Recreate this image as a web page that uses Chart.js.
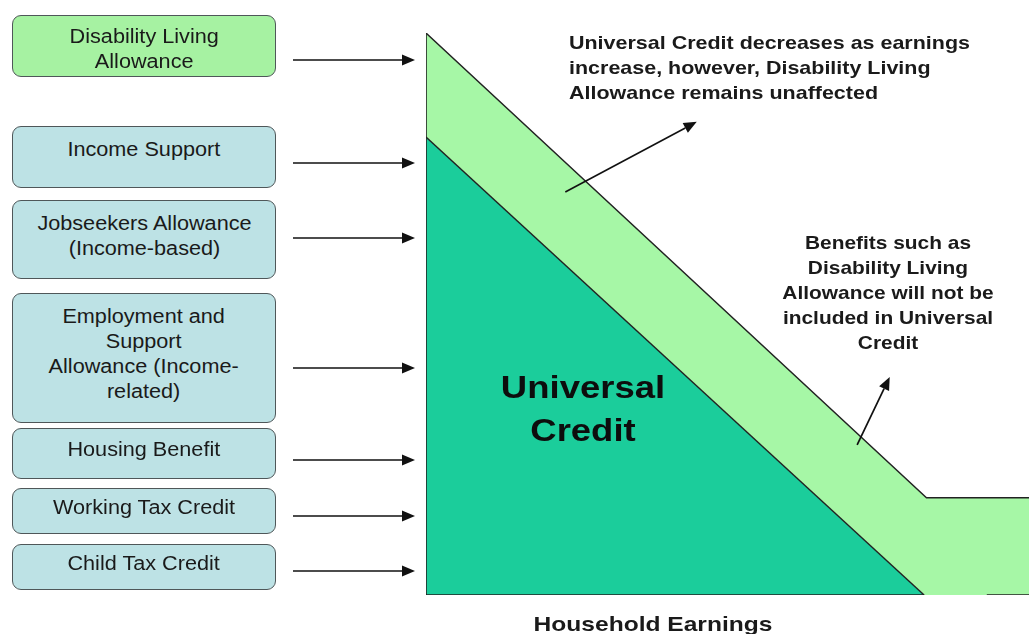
<!DOCTYPE html>
<html>
<head>
<meta charset="utf-8">
<script src="https://cdn.jsdelivr.net/npm/chart.js@4/dist/chart.umd.min.js"></script>
<style>
  body { margin: 0; background: #fff; }
  #wrap { position: relative; width: 1029px; height: 634px; overflow: hidden; font-family: "Liberation Sans", Arial, sans-serif; color: #1a1a1a; }
  #chart { position: absolute; left: 0; top: 0; }
  .box { position: absolute; left: 12px; width: 264px; box-sizing: border-box; border: 1.5px solid #4f5759; border-radius: 9px;
         background: #bde2e5; display: flex; align-items: center; justify-content: center; text-align: center;
         font-size: 19.5px; line-height: 25px; padding-bottom: 8px; }
  .box span { display: inline-block; transform: scaleX(1.11); }
  .box.dla { background: #a6f2a2; padding-bottom: 0; padding-top: 5px; }
  .note { position: absolute; font-weight: bold; font-size: 19px; line-height: 25px; color: #1a1a1a; }
</style>
</head>
<body>
<div id="wrap">
  <canvas id="chart" width="1029" height="634"></canvas>
</div>
<script>
// benefits replaced / not replaced by Universal Credit
const benefitLabels = [
  "Disability Living<br>Allowance",
  "Income Support",
  "Jobseekers Allowance<br>(Income-based)",
  "Employment and<br>Support<br>Allowance (Income-<br>related)",
  "Housing Benefit",
  "Working Tax Credit",
  "Child Tax Credit"
];

// earnings (x) and benefit level (y), 0-100 scale
const dlaEarnings = [0, 83, 100];
const dlaLevel = [100, 17.3, 17.3];
const ucEarnings = [0, 82.6];
const ucLevel = [81.5, 0];

// box layout (top, height, arrow y) in page pixels
const boxLayout = [
  [15, 62, 60],
  [126, 62, 163],
  [200, 79, 238],
  [293, 130, 368],
  [428, 51, 460],
  [488, 46, 516],
  [544, 46, 571]
];

const wrap = document.getElementById("wrap");
benefitLabels.forEach((txt, i) => {
  const b = document.createElement("div");
  b.className = "box" + (i === 0 ? " dla" : "");
  b.style.top = boxLayout[i][0] + "px";
  b.style.height = boxLayout[i][1] + "px";
  if (i === 1) b.style.paddingBottom = "16px";
  b.innerHTML = "<span>" + txt + "</span>";
  wrap.appendChild(b);
});

function addNote(html, css, sx, origin) {
  const d = document.createElement("div");
  d.className = "note";
  d.innerHTML = html;
  Object.assign(d.style, css);
  d.style.transform = "scaleX(" + sx + ")";
  d.style.transformOrigin = origin;
  wrap.appendChild(d);
}
addNote("Universal Credit decreases as earnings<br>increase, however, Disability Living<br>Allowance remains unaffected",
  { left: "569px", top: "30px" }, 1.13, "left top");
addNote("Benefits such as<br>Disability Living<br>Allowance will not be<br>included in Universal<br>Credit",
  { left: "768px", top: "230px", width: "240px", textAlign: "center" }, 1.1, "center top");
addNote("Universal<br>Credit",
  { left: "483px", top: "366px", width: "200px", textAlign: "center", fontSize: "32px", lineHeight: "43px", color: "#0d0d0d" }, 1.14, "center top");
addNote("Household Earnings",
  { left: "523px", top: "611px", width: "260px", textAlign: "center", fontSize: "21px" }, 1.17, "center top");

function arrow(ctx, x1, y1, x2, y2) {
  const a = Math.atan2(y2 - y1, x2 - x1);
  const len = 13, w = 5.5;
  ctx.save();
  ctx.strokeStyle = "#111";
  ctx.fillStyle = "#111";
  ctx.lineWidth = 1.7;
  ctx.beginPath();
  ctx.moveTo(x1, y1);
  ctx.lineTo(x2 - len * Math.cos(a), y2 - len * Math.sin(a));
  ctx.stroke();
  ctx.beginPath();
  ctx.moveTo(x2, y2);
  ctx.lineTo(x2 - len * Math.cos(a) + w * Math.sin(a), y2 - len * Math.sin(a) - w * Math.cos(a));
  ctx.lineTo(x2 - len * Math.cos(a) - w * Math.sin(a), y2 - len * Math.sin(a) + w * Math.cos(a));
  ctx.closePath();
  ctx.fill();
  ctx.restore();
}

const arrowsPlugin = {
  id: "arrows",
  afterDraw(chart) {
    const ctx = chart.ctx;
    const { left } = chart.chartArea;
    const xs = chart.scales.x, ys = chart.scales.y;
    boxLayout.forEach(l => arrow(ctx, left - 133, l[2], left - 11, l[2]));
    arrow(ctx, xs.getPixelForValue(23.1), ys.getPixelForValue(71.7), xs.getPixelForValue(44.9), ys.getPixelForValue(84.2));
    arrow(ctx, xs.getPixelForValue(71.5), ys.getPixelForValue(26.7), xs.getPixelForValue(76.9), ys.getPixelForValue(38.8));
  }
};

const pts = (xs, ys) => xs.map((x, i) => ({ x, y: ys[i] }));

new Chart(document.getElementById("chart"), {
  type: "line",
  data: {
    datasets: [
      {
        label: "Axes",
        data: [{ x: 0, y: 100 }, { x: 0, y: 0 }, { x: 82.6, y: 0 }, { x: 88, y: null }, { x: 93, y: 0 }, { x: 100, y: 0 }],
        borderColor: "#222",
        borderWidth: 1.6,
        fill: false,
        spanGaps: false,
        order: 0
      },
      {
        label: "Universal Credit",
        data: pts(ucEarnings, ucLevel),
        borderColor: "#222",
        borderWidth: 1.4,
        backgroundColor: "#1bcd9b",
        fill: "origin",
        order: 1
      },
      {
        label: "Disability Living Allowance",
        data: pts(dlaEarnings, dlaLevel),
        borderColor: "#222",
        borderWidth: 1.4,
        backgroundColor: "#a6f7a6",
        fill: "origin",
        order: 2
      }
    ]
  },
  options: {
    responsive: false,
    animation: false,
    layout: { padding: { left: 426, top: 33, right: 0, bottom: 39 } },
    elements: { point: { radius: 0 }, line: { tension: 0 } },
    plugins: { legend: { display: false }, tooltip: { enabled: false } },
    scales: {
      x: { type: "linear", min: 0, max: 100, display: false },
      y: { min: 0, max: 100, display: false }
    }
  },
  plugins: [arrowsPlugin]
});
</script>
</body>
</html>
